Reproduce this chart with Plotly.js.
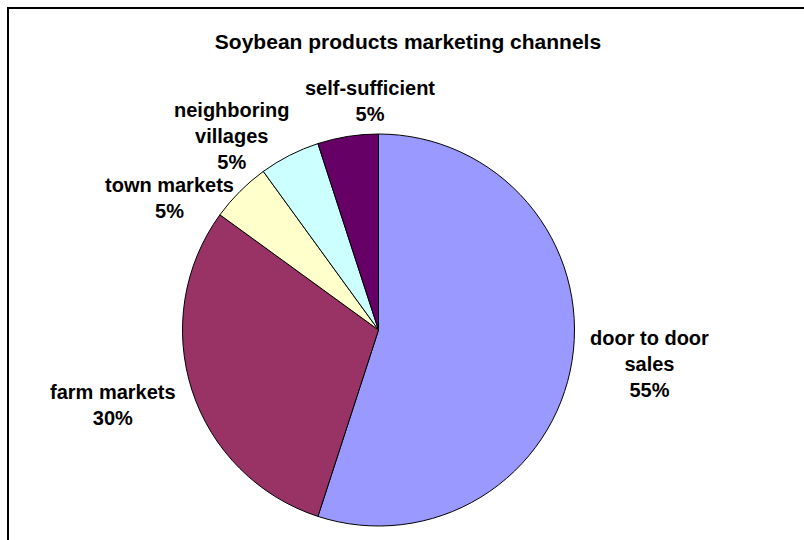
<!DOCTYPE html>
<html>
<head>
<meta charset="utf-8">
<script src="https://cdn.plot.ly/plotly-3.0.1.min.js"></script>
<style>
  html, body { margin: 0; padding: 0; background: #fff; }
  #chart { width: 804px; height: 540px; position: relative; }
  #frame { position: absolute; left: 7px; top: 7px; width: 1000px; height: 1000px;
           border-left: 2px solid #000; border-top: 2px solid #000; pointer-events: none; }
  #wrap { position: relative; width: 804px; height: 540px; overflow: hidden; }
</style>
</head>
<body>
<div id="wrap">
  <div id="chart"></div>
  <div id="frame"></div>
</div>
<script>
const titleText = "Soybean products marketing channels";
const categories = ["door to door sales", "farm markets", "town markets", "neighboring villages", "self-sufficient"];
const labelLines = [["door to door", "sales"], ["farm markets"], ["town markets"], ["neighboring", "villages"], ["self-sufficient"]];
const shares = [55, 30, 5, 5, 5];
const colors = ["#9999FF", "#993366", "#FFFFCC", "#CCFFFF", "#660066"];

// label placement (paper coords), style only
const labelPos = [
  [649, 364], [113, 405], [169, 198], [232, 136], [370, 101]
];

const W = 804, H = 540;
const annotations = categories.map((c, i) => ({
  xref: "paper", yref: "paper",
  x: labelPos[i][0] / W, y: 1 - labelPos[i][1] / H,
  xanchor: "center", yanchor: "middle",
  showarrow: false,
  align: "center",
  text: labelLines[i].map(s => "<b>" + s + "</b>").join("<br>") + "<br><b>" + shares[i] + "%</b>",
  font: { family: "Liberation Sans, Arial, sans-serif", size: 20, color: "#000" }
}));

const trace = {
  type: "pie",
  labels: categories,
  values: shares,
  sort: false,
  direction: "clockwise",
  rotation: 0,
  textinfo: "none",
  hoverinfo: "label+percent",
  marker: { colors: colors, line: { color: "#000", width: 1 } },
  domain: { x: [181.5 / W, 575.5 / W], y: [14 / H, 406 / H] }
};

const layout = {
  width: W, height: H,
  margin: { l: 0, r: 0, t: 0, b: 0 },
  paper_bgcolor: "#fff",
  showlegend: false,
  title: {
    text: "<b>" + titleText + "</b>",
    x: 408 / W, xanchor: "center", xref: "container",
    y: 1 - 42 / H, yanchor: "middle", yref: "container",
    font: { family: "Liberation Sans, Arial, sans-serif", size: 21, color: "#000" }
  },
  annotations: annotations
};

Plotly.newPlot("chart", [trace], layout, { displayModeBar: false, staticPlot: true });
</script>
</body>
</html>
